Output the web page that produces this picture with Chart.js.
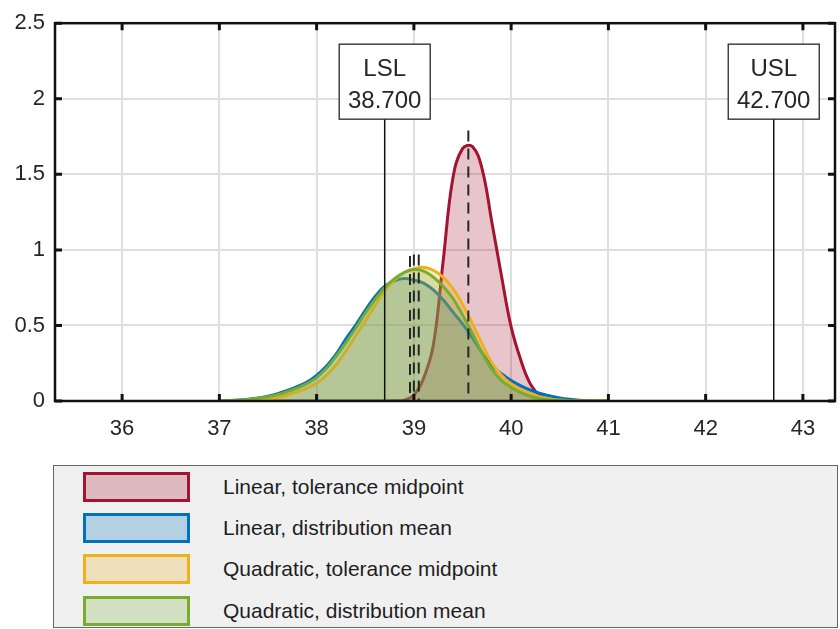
<!DOCTYPE html>
<html>
<head>
<meta charset="utf-8">
<script src="https://cdn.jsdelivr.net/npm/chart.js@4.4.0/dist/chart.umd.min.js"></script>
<style>
  body { margin: 0; background: #fff; font-family: 'Liberation Sans', Arial, sans-serif; }
  #wrap { position: relative; width: 840px; height: 629px; }
  #mycanvas { position: absolute; left: 0; top: 0; }
  #legend { position: absolute; left: 53px; top: 465px; width: 785px; height: 163px; box-sizing: border-box; background: #f0f0f0; border: 1px solid #666; }
  .row { position: absolute; left: 0; width: 100%; height: 30px; }
  .swatch { position: absolute; left: 29px; top: 0; width: 107px; height: 30px; box-sizing: border-box; border: 3px solid; }
  .label { position: absolute; left: 169px; top: 0; line-height: 30px; font-size: 21px; color: #1e1e1e; white-space: nowrap; }
</style>
</head>
<body>
<div id="wrap">
  <canvas id="mycanvas" width="840" height="445"></canvas>
  <div id="legend"></div>
</div>
<script>
// x positions of the density samples
const xGrid = [37.0, 37.1, 37.2, 37.3, 37.4, 37.5, 37.6, 37.7, 37.8, 37.9,
               38.0, 38.1, 38.2, 38.3, 38.4, 38.5, 38.6, 38.7, 38.8, 38.9,
               39.0, 39.1, 39.2, 39.3, 39.4, 39.5, 39.6, 39.7, 39.8, 39.9,
               40.0, 40.1, 40.2, 40.3, 40.4, 40.5, 40.6, 40.7, 40.8, 40.9, 41.0];

// density values
const linTol = [0, 0, 0, 0, 0, 0, 0, 0, 0, 0,
                0, 0, 0, 0, 0, 0, 0, 0, 0.001, 0.006,
                0.04, 0.15, 0.37, 0.92, 1.47, 1.67, 1.685, 1.54, 1.19, 0.83,
                0.49, 0.27, 0.11, 0.035, 0.01, 0.002, 0, 0, 0, 0, 0];
const linMean = [0, 0.002, 0.006, 0.012, 0.02, 0.032, 0.048, 0.07, 0.095, 0.125,
                 0.17, 0.23, 0.31, 0.41, 0.50, 0.60, 0.69, 0.76, 0.795, 0.81,
                 0.80, 0.78, 0.735, 0.67, 0.59, 0.51, 0.42, 0.32, 0.235, 0.18,
                 0.135, 0.10, 0.072, 0.05, 0.033, 0.02, 0.011, 0.005, 0.002, 0, 0];
const quadTol = [0, 0, 0.002, 0.004, 0.008, 0.014, 0.024, 0.04, 0.06, 0.085,
                 0.117, 0.17, 0.24, 0.33, 0.43, 0.53, 0.63, 0.73, 0.80, 0.85,
                 0.875, 0.885, 0.865, 0.82, 0.745, 0.64, 0.515, 0.38, 0.255, 0.17,
                 0.112, 0.075, 0.047, 0.027, 0.014, 0.006, 0.002, 0, 0, 0, 0];
const quadMean = [0, 0.002, 0.005, 0.01, 0.018, 0.028, 0.042, 0.062, 0.085, 0.115,
                  0.155, 0.215, 0.295, 0.385, 0.48, 0.58, 0.67, 0.75, 0.81, 0.85,
                  0.87, 0.86, 0.82, 0.76, 0.68, 0.57, 0.45, 0.32, 0.21, 0.135,
                  0.09, 0.055, 0.03, 0.015, 0.006, 0.002, 0, 0, 0, 0, 0];

const seriesNames = ['Linear, tolerance midpoint', 'Linear, distribution mean',
                     'Quadratic, tolerance midpoint', 'Quadratic, distribution mean'];

// mean markers (dashed) and spec limits
const meanX = [39.56, 38.96, 39.00, 39.05];
const meanTop = [1.79, 0.96, 0.97, 0.97];
const specX = [38.7, 42.7];
const specNames = ['LSL', 'USL'];
const specTop = 1.865;

const xTicks = [36, 37, 38, 39, 40, 41, 42, 43];
const yTicks = [0, 0.5, 1, 1.5, 2, 2.5];

const colors = ['#A2142F', '#0072BD', '#EDB120', '#77AC30'];
const FONT = "'Liberation Sans', Arial, sans-serif";

function fade(hex, a) {
    const n = parseInt(hex.slice(1), 16);
    return `rgba(${n >> 16}, ${(n >> 8) & 255}, ${n & 255}, ${a})`;
}

function createChart() {
    const ctx = document.getElementById('mycanvas').getContext('2d');
    const curves = [linTol, linMean, quadTol, quadMean];

    const datasets = curves.map((vals, i) => ({
        label: seriesNames[i],
        data: xGrid.map((x, j) => ({ x: x, y: vals[j] })),
        borderColor: colors[i],
        backgroundColor: fade(colors[i], 0.25),
        borderWidth: 3,
        fill: 'origin',
        pointRadius: 0,
        tension: 0.4,
        order: 4 - i,
    }));

    meanX.forEach((x, i) => {
        datasets.push({
            data: [{ x: x, y: meanTop[i] }, { x: x, y: 0 }],
            borderColor: '#262626',
            borderWidth: 2,
            borderDash: [11, 7],
            fill: false,
            pointRadius: 0,
            order: 0,
        });
    });
    specX.forEach(x => {
        datasets.push({
            data: [{ x: x, y: specTop }, { x: x, y: 0 }],
            borderColor: '#111',
            borderWidth: 1.5,
            fill: false,
            pointRadius: 0,
            order: 0,
        });
    });

    // axes box, inward ticks and LSL/USL labels
    const frame = {
        id: 'frame',
        afterDatasetsDraw: chart => {
            const { ctx, chartArea: a, scales } = chart;
            const xs = scales.x, ys = scales.y;
            ctx.save();
            ctx.strokeStyle = '#111';
            ctx.lineWidth = 2.5;
            ctx.strokeRect(a.left, a.top, a.right - a.left, a.bottom - a.top);
            ctx.lineWidth = 3;
            ctx.beginPath();
            xTicks.forEach(v => {
                const px = xs.getPixelForValue(v);
                ctx.moveTo(px, a.bottom); ctx.lineTo(px, a.bottom - 7);
                ctx.moveTo(px, a.top); ctx.lineTo(px, a.top + 7);
            });
            yTicks.forEach(v => {
                const py = ys.getPixelForValue(v);
                ctx.moveTo(a.left, py); ctx.lineTo(a.left + 7, py);
                ctx.moveTo(a.right, py); ctx.lineTo(a.right - 7, py);
            });
            ctx.stroke();

            ctx.font = '24px ' + FONT;
            ctx.textAlign = 'center';
            ctx.textBaseline = 'middle';
            const w = 91, h = 75;
            specX.forEach((v, i) => {
                const cx = xs.getPixelForValue(v);
                const bottom = ys.getPixelForValue(specTop);
                ctx.fillStyle = '#fff';
                ctx.fillRect(cx - w / 2, bottom - h, w, h);
                ctx.lineWidth = 1.3;
                ctx.strokeStyle = '#262626';
                ctx.strokeRect(cx - w / 2, bottom - h, w, h);
                ctx.fillStyle = '#262626';
                ctx.fillText(specNames[i], cx, bottom - h + 25);
                ctx.fillText(v.toFixed(3), cx, bottom - h + 57);
            });
            ctx.restore();
        }
    };

    new Chart(ctx, {
        type: 'line',
        data: { datasets: datasets },
        options: {
            responsive: false,
            animation: false,
            layout: { padding: { top: 15, right: 5, left: 0, bottom: 0 } },
            plugins: {
                legend: { display: false },
                tooltip: { enabled: false },
            },
            scales: {
                x: {
                    type: 'linear',
                    min: 35.31,
                    max: 43.33,
                    afterBuildTicks: s => { s.ticks = xTicks.map(v => ({ value: v })); },
                    afterFit: s => { s.height = 44; },
                    grid: { color: '#dedede', lineWidth: 2, drawTicks: false },
                    border: { display: false },
                    ticks: { padding: 15, color: '#262626', font: { size: 22, family: FONT } },
                },
                y: {
                    type: 'linear',
                    min: 0,
                    max: 2.5,
                    afterBuildTicks: s => { s.ticks = yTicks.map(v => ({ value: v })); },
                    afterFit: s => { s.width = 55; },
                    grid: { color: '#dedede', lineWidth: 2, drawTicks: false },
                    border: { display: false },
                    ticks: {
                        padding: 10,
                        color: '#262626',
                        font: { size: 22, family: FONT },
                        callback: v => String(v),
                    },
                },
            },
        },
        plugins: [frame],
    });
}

function createLegend() {
    const legendEl = document.getElementById('legend');
    seriesNames.forEach((name, i) => {
        const row = document.createElement('div');
        row.className = 'row';
        row.style.top = (6 + i * 41.2) + 'px';
        const sw = document.createElement('div');
        sw.className = 'swatch';
        sw.style.borderColor = colors[i];
        sw.style.background = fade(colors[i], 0.25);
        const lab = document.createElement('div');
        lab.className = 'label';
        lab.textContent = name;
        row.appendChild(sw);
        row.appendChild(lab);
        legendEl.appendChild(row);
    });
}

createChart();
createLegend();
</script>
</body>
</html>
